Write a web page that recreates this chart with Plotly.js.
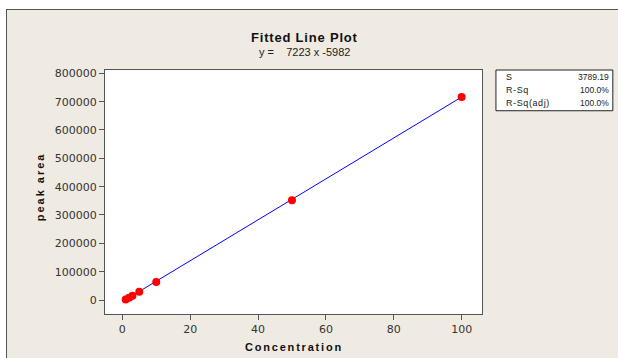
<!DOCTYPE html>
<html>
<head>
<meta charset="utf-8">
<script src="https://cdn.plot.ly/plotly-3.0.1.min.js"></script>
<style>
  html, body { margin: 0; padding: 0; background: #ffffff; width: 618px; height: 358px; overflow: hidden; }
  #frame { position: absolute; left: 6px; top: 9px; border-top: 1px solid #555; border-left: 1px solid #555; background: #efebe2; }
  #chart { width: 611px; height: 348px; }
</style>
</head>
<body>
<div id="frame"><div id="chart"></div></div>
<script>
// Data
const concentration = [1, 2, 3, 5, 10, 50, 100];
const peakArea = [1500, 8000, 15000, 29500, 63500, 352000, 716500];
// Fitted line coefficients shown in the subtitle
const slope = 7223;
const intercept = -5982;
const xTicks = [0, 20, 40, 60, 80, 100];
const yTicks = [0, 100000, 200000, 300000, 400000, 500000, 600000, 700000, 800000];
const statLabels = ['S', 'R-Sq', 'R-Sq(adj)'];
const statValues = ['3789.19', '100.0%', '100.0%'];

const fitX = [Math.min(...concentration), Math.max(...concentration)];
const fitY = fitX.map(x => slope * x + intercept);

const font = 'Liberation Sans, Arial, sans-serif';
const tickFont = 'DejaVu Sans, sans-serif';

const traces = [
  { x: fitX, y: fitY, mode: 'lines', line: { color: '#0000ff', width: 1 }, hoverinfo: 'skip' },
  { x: concentration, y: peakArea, mode: 'markers', marker: { color: '#ff0000', size: 8 } }
];

const statRowsY = [0.971, 0.918, 0.865];
const annotations = [
  { text: '<span style="letter-spacing:0.8px"><b>Fitted Line Plot</b></span>', xref: 'paper', yref: 'paper', x: 0.53, y: 1.135, showarrow: false,
    xanchor: 'center', yanchor: 'middle', font: { family: font, size: 13, color: '#111' } },
  { text: 'y =    ' + slope + ' x ' + intercept, xref: 'paper', yref: 'paper', x: 0.53, y: 1.074, showarrow: false,
    xanchor: 'center', yanchor: 'middle', font: { family: font, size: 11, color: '#222' } },
  { text: '<span style="letter-spacing:2px"><b>peak area</b></span>', xref: 'paper', yref: 'paper', x: -0.172, y: 0.52, textangle: -90, showarrow: false,
    xanchor: 'center', yanchor: 'middle', font: { family: font, size: 11, color: '#111' } },
  { text: '<span style="letter-spacing:1.8px"><b>Concentration</b></span>', xref: 'paper', yref: 'paper', x: 0.5, y: -0.135, showarrow: false,
    xanchor: 'center', yanchor: 'middle', font: { family: font, size: 11, color: '#111' } }
];
statLabels.forEach((lab, i) => {
  annotations.push({ text: '<span style="letter-spacing:0.6px">' + lab + '</span>', xref: 'paper', yref: 'paper', x: 1.058, y: statRowsY[i], showarrow: false,
    xanchor: 'left', yanchor: 'middle', font: { family: font, size: 9, color: '#222' } });
  annotations.push({ text: statValues[i], xref: 'paper', yref: 'paper', x: 1.341, y: statRowsY[i], showarrow: false,
    xanchor: 'right', yanchor: 'middle', font: { family: font, size: 8.5, color: '#222' } });
});

const layout = {
  width: 611, height: 348,
  margin: { l: 98, r: 136, t: 60, b: 44 },
  paper_bgcolor: '#efebe2',
  plot_bgcolor: '#ffffff',
  showlegend: false,
  font: { family: font, size: 11, color: '#333' },
  xaxis: {
    range: [-5.1, 106], tickvals: xTicks, ticktext: xTicks.map(String),
    showgrid: false, zeroline: false, showline: true, mirror: true, linecolor: '#555', linewidth: 1,
    ticks: 'outside', ticklen: 5, tickcolor: '#555', tickfont: { family: tickFont, size: 11, color: '#333' }
  },
  yaxis: {
    range: [-49400, 811700], tickvals: yTicks, ticktext: yTicks.map(String),
    showgrid: false, zeroline: false, showline: true, mirror: true, linecolor: '#555', linewidth: 1,
    ticks: 'outside', ticklen: 5, tickcolor: '#555', tickfont: { family: tickFont, size: 11, color: '#333' }
  },
  shapes: [
    { type: 'rect', xref: 'paper', yref: 'paper', x0: 1.037, x1: 1.347, y0: 0.833, y1: 1.0,
      fillcolor: '#ffffff', line: { color: '#222', width: 1 }, layer: 'below' }
  ],
  annotations: annotations
};

Plotly.newPlot('chart', traces, layout, { displayModeBar: false, staticPlot: true });
</script>
</body>
</html>
